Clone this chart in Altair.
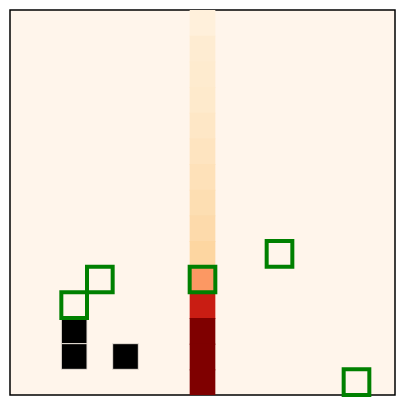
import altair as alt
import pandas as pd

N = 15
# heat column (column 7), values per row from top (row 0) to bottom (row 14)
heat_col = 7
heat_values = [0.06, 0.09, 0.10, 0.11, 0.13, 0.15, 0.17, 0.19, 0.21, 0.24, 0.47, 0.80, 1.0, 1.0, 1.0]

# black (blocked) cells: (col, row)
black_cols = [2, 2, 4]
black_rows = [12, 13, 13]

# green outlined cells: (col, row)
green_cols = [2, 3, 7, 10, 13]
green_rows = [11, 10, 10, 9, 14]

orrd = ["#fff7ec", "#fee8c8", "#fdd49e", "#fdbb84", "#fc8d59", "#ef6548", "#d7301f", "#b30000", "#7f0000"]
orrd_domain = [i / 8 for i in range(9)]

heat_df = pd.DataFrame({"col": [heat_col] * N, "row": list(range(N)), "v": heat_values})
black_df = pd.DataFrame({"col": black_cols, "row": black_rows})
green_df = pd.DataFrame({"col": green_cols, "row": green_rows})

xs = alt.Scale(domain=[0, N], nice=False, zero=False)
ys = alt.Scale(domain=[0, N], nice=False, zero=False, reverse=True)
cs = alt.Scale(domain=orrd_domain, range=orrd, interpolate="rgb")


def cells(base, overlap=0.0):
    return base.transform_calculate(
        x1="datum.col", x2="datum.col + 1", y1="datum.row",
        y2=f"min(datum.row + 1 + {overlap}, {N})"
    ).encode(
        x=alt.X("x1:Q", scale=xs, axis=None),
        x2="x2:Q",
        y=alt.Y("y1:Q", scale=ys, axis=None),
        y2="y2:Q",
    )


heat = cells(alt.Chart(heat_df).mark_rect(strokeWidth=0), overlap=0.04).encode(
    color=alt.Color("v:Q", scale=cs, legend=None),
    order=alt.Order("row:Q"),
)
black = cells(alt.Chart(black_df).mark_rect(color="black", stroke="#e8e0d8", strokeWidth=1))
green = cells(alt.Chart(green_df).mark_rect(fill=None, filled=False, stroke="green", strokeWidth=4))

chart = (
    alt.layer(heat, black, green)
    .properties(width=385, height=385, padding={"left": 10, "top": 10, "right": 10, "bottom": 10})
    .configure(background="white")
    .configure_view(fill="#fff5eb", stroke="black", strokeWidth=1.5)
)

chart.save("out.html", embed_options={"renderer": "svg", "actions": False})
